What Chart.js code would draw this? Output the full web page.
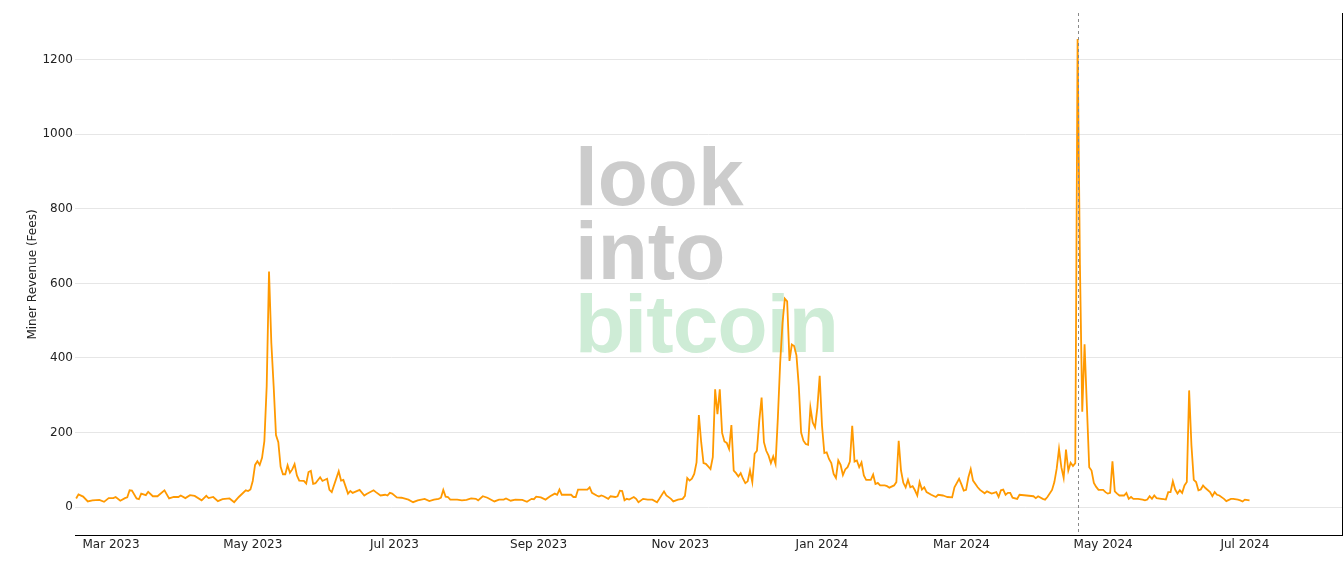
<!DOCTYPE html>
<html>
<head>
<meta charset="utf-8">
<script src="https://cdn.jsdelivr.net/npm/chart.js@4.4.1/dist/chart.umd.min.js"></script>
<style>
html,body{margin:0;padding:0;background:#fff;}
#wrap{width:1344px;height:562px;position:relative;}
</style>
</head>
<body>
<div id="wrap"><canvas id="c" width="1344" height="562"></canvas></div>
<script>
// ---- data ----
const dates = [
'2023-02-14','2023-02-15','2023-02-17','2023-02-19','2023-02-21','2023-02-24','2023-02-26','2023-02-28',
'2023-03-02','2023-03-03','2023-03-05','2023-03-07','2023-03-08','2023-03-09','2023-03-10','2023-03-12','2023-03-13','2023-03-14','2023-03-16','2023-03-17','2023-03-19','2023-03-21','2023-03-24','2023-03-26','2023-03-28','2023-03-30','2023-03-31',
'2023-04-02','2023-04-04','2023-04-06','2023-04-09','2023-04-11','2023-04-12','2023-04-14','2023-04-16','2023-04-18','2023-04-21','2023-04-23','2023-04-25','2023-04-28','2023-04-29','2023-04-30',
'2023-05-01','2023-05-02','2023-05-03','2023-05-04','2023-05-05','2023-05-06','2023-05-07','2023-05-08','2023-05-09','2023-05-10','2023-05-11','2023-05-12','2023-05-13','2023-05-14','2023-05-15','2023-05-16','2023-05-17','2023-05-18','2023-05-19','2023-05-20','2023-05-21','2023-05-23','2023-05-24','2023-05-25','2023-05-26','2023-05-27','2023-05-28','2023-05-30','2023-05-31',
'2023-06-02','2023-06-03','2023-06-04','2023-06-07','2023-06-08','2023-06-09','2023-06-11','2023-06-12','2023-06-13','2023-06-16','2023-06-18','2023-06-19','2023-06-22','2023-06-23','2023-06-25','2023-06-27','2023-06-28','2023-06-29','2023-06-30',
'2023-07-02','2023-07-04','2023-07-07','2023-07-09','2023-07-11','2023-07-14','2023-07-16','2023-07-18','2023-07-20','2023-07-21','2023-07-22','2023-07-23','2023-07-24','2023-07-25','2023-07-28','2023-07-30',
'2023-08-01','2023-08-03','2023-08-05','2023-08-06','2023-08-08','2023-08-10','2023-08-13','2023-08-15','2023-08-17','2023-08-18','2023-08-20','2023-08-22','2023-08-25','2023-08-27','2023-08-29','2023-08-30','2023-08-31',
'2023-09-02','2023-09-04','2023-09-06','2023-09-08','2023-09-09','2023-09-10','2023-09-11','2023-09-13','2023-09-15','2023-09-16','2023-09-17','2023-09-18','2023-09-20','2023-09-22','2023-09-23','2023-09-24','2023-09-26','2023-09-27','2023-09-28','2023-09-29',
'2023-10-01','2023-10-02','2023-10-04','2023-10-05','2023-10-06','2023-10-07','2023-10-08','2023-10-09','2023-10-10','2023-10-12','2023-10-13','2023-10-14','2023-10-16','2023-10-18','2023-10-20','2023-10-22','2023-10-23','2023-10-25','2023-10-26','2023-10-28','2023-10-29','2023-10-31',
'2023-11-02','2023-11-03','2023-11-04','2023-11-05','2023-11-06','2023-11-07','2023-11-08','2023-11-09','2023-11-10','2023-11-11','2023-11-12','2023-11-13','2023-11-14','2023-11-15','2023-11-16','2023-11-17','2023-11-18','2023-11-19','2023-11-20','2023-11-21','2023-11-22','2023-11-23','2023-11-24','2023-11-25','2023-11-26','2023-11-27','2023-11-28','2023-11-29','2023-11-30',
'2023-12-01','2023-12-02','2023-12-03','2023-12-04','2023-12-05','2023-12-06','2023-12-07','2023-12-08','2023-12-09','2023-12-10','2023-12-11','2023-12-12','2023-12-13','2023-12-14','2023-12-15','2023-12-16','2023-12-17','2023-12-18','2023-12-19','2023-12-20','2023-12-21','2023-12-22','2023-12-23','2023-12-24','2023-12-25','2023-12-26','2023-12-27','2023-12-28','2023-12-29','2023-12-30','2023-12-31',
'2024-01-01','2024-01-02','2024-01-03','2024-01-04','2024-01-05','2024-01-06','2024-01-07','2024-01-08','2024-01-09','2024-01-10','2024-01-11','2024-01-12','2024-01-13','2024-01-14','2024-01-15','2024-01-16','2024-01-17','2024-01-18','2024-01-19','2024-01-20','2024-01-22','2024-01-23','2024-01-24','2024-01-25','2024-01-26','2024-01-28','2024-01-29','2024-01-30',
'2024-02-01','2024-02-02','2024-02-03','2024-02-04','2024-02-05','2024-02-06','2024-02-07','2024-02-08','2024-02-09','2024-02-10','2024-02-11','2024-02-12','2024-02-13','2024-02-14','2024-02-15','2024-02-17','2024-02-19','2024-02-20','2024-02-22','2024-02-23','2024-02-24','2024-02-26','2024-02-27','2024-02-29',
'2024-03-01','2024-03-02','2024-03-03','2024-03-04','2024-03-05','2024-03-06','2024-03-08','2024-03-09','2024-03-11','2024-03-12','2024-03-14','2024-03-16','2024-03-17','2024-03-18','2024-03-19','2024-03-20','2024-03-21','2024-03-22','2024-03-23','2024-03-25','2024-03-26','2024-03-29',
'2024-04-01','2024-04-02','2024-04-03','2024-04-05','2024-04-06','2024-04-07','2024-04-09','2024-04-10','2024-04-11','2024-04-12','2024-04-13','2024-04-14','2024-04-15','2024-04-16','2024-04-17','2024-04-18','2024-04-19','2024-04-20','2024-04-21','2024-04-22','2024-04-23','2024-04-24','2024-04-25','2024-04-26','2024-04-27','2024-04-28','2024-04-29',
'2024-05-01','2024-05-02','2024-05-03','2024-05-04','2024-05-05','2024-05-06','2024-05-07','2024-05-08','2024-05-10','2024-05-11','2024-05-12','2024-05-13','2024-05-14','2024-05-16','2024-05-18','2024-05-19','2024-05-20','2024-05-21','2024-05-22','2024-05-23','2024-05-24','2024-05-26','2024-05-27','2024-05-28','2024-05-29','2024-05-30','2024-05-31',
'2024-06-01','2024-06-02','2024-06-03','2024-06-04','2024-06-05','2024-06-06','2024-06-07','2024-06-08','2024-06-09','2024-06-10','2024-06-11','2024-06-12','2024-06-13','2024-06-14','2024-06-16','2024-06-17','2024-06-18','2024-06-19','2024-06-20','2024-06-22','2024-06-23','2024-06-25','2024-06-26','2024-06-28','2024-06-29','2024-06-30',
'2024-07-01','2024-07-03'
];
const fees = [
23,34,28,15,18,19,14,24,
24,27,17,24,26,45,44,23,21,36,32,41,29,29,45,23,27,27,31,
24,32,30,18,30,24,27,16,21,23,13,27,45,43,47,
70,113,123,113,132,177,324,632,440,324,193,174,108,88,88,112,92,101,115,85,71,70,63,94,97,62,64,80,70,
76,46,40,96,71,73,36,43,38,46,31,35,45,40,31,33,31,38,36,
26,25,20,13,18,22,16,20,22,25,46,28,27,20,20,18,
19,23,22,18,29,25,15,20,20,23,17,20,19,14,22,21,28,
26,20,29,36,33,47,33,33,33,27,27,47,47,47,53,38,31,28,31,29,
22,29,27,29,44,43,18,22,20,27,22,13,22,20,20,13,22,42,31,22,15,20,
22,30,78,71,76,89,120,247,174,118,116,109,102,134,316,249,316,199,176,172,156,220,98,91,82,91,76,64,69,
98,67,143,151,232,294,174,151,138,118,136,116,240,388,494,559,552,392,436,432,407,325,200,178,169,167,267,227,214,267,352,
218,145,147,129,118,89,78,125,113,86,101,107,122,218,122,125,107,120,85,73,73,87,62,65,58,58,56,52,
58,67,178,98,65,53,73,53,56,45,31,67,47,53,40,33,27,33,31,29,27,26,53,76,
61,44,46,80,102,71,53,46,37,42,36,40,27,45,47,33,38,38,25,22,33,31,
29,24,29,22,20,27,46,67,103,156,107,78,154,98,119,110,118,1256,650,256,437,270,107,98,65,54,46,
46,40,36,38,123,42,36,31,31,38,22,27,22,22,20,18,20,29,22,31,24,22,21,20,40,40,69,
47,36,45,38,58,67,313,165,73,67,45,47,58,51,40,29,40,33,31,22,16,22,22,20,18,15,
20,18
];
const tickDates = ['2023-03-01','2023-05-01','2023-07-01','2023-09-01','2023-11-01','2024-01-01','2024-03-01','2024-05-01','2024-07-01'];
const tickLabels = ['Mar 2023','May 2023','Jul 2023','Sep 2023','Nov 2023','Jan 2024','Mar 2024','May 2024','Jul 2024'];
const yTicks = [0,200,400,600,800,1000,1200];
const halvingDate = '2024-04-20';
const xRange = ['2023-02-13T12:00:00Z','2024-08-11T19:00:00Z'];
const yRange = [-75, 1323];
const axisTitle = 'Miner Revenue (Fees)';
const watermarkLines = ['look','into','bitcoin'];

// ---- helpers ----
const toDay = s => Date.parse(s) / 86400000;
const points = dates.map((d, i) => ({x: toDay(d), y: fees[i]}));
const FONT = '"DejaVu Sans", Verdana, sans-serif';

const decor = {
  id: 'decor',
  beforeDatasetsDraw(chart) {
    const ctx = chart.ctx;
    ctx.save();
    ctx.font = 'bold 82px "Liberation Sans", Arial, sans-serif';
    ctx.textAlign = 'left';
    ctx.textBaseline = 'alphabetic';
    const cols = ['#cccccc', '#cccccc', '#ceecd6'];
    const base = [205, 278.5, 352];
    const spacing = ['0px', '0px', '-0.8px'];
    watermarkLines.forEach((t, i) => {
      ctx.fillStyle = cols[i];
      if ('letterSpacing' in ctx) ctx.letterSpacing = spacing[i];
      ctx.fillText(t, 575, base[i]);
    });
    ctx.restore();
  },
  afterDatasetsDraw(chart) {
    const {ctx, chartArea: a, scales: {x}} = chart;
    ctx.save();
    ctx.strokeStyle = '#000';
    ctx.lineWidth = 1;
    ctx.beginPath();
    ctx.moveTo(a.left, a.bottom + 0.5);
    ctx.lineTo(a.right + 1, a.bottom + 0.5);
    ctx.stroke();
    ctx.beginPath();
    ctx.moveTo(a.right + 0.5, a.top - 1);
    ctx.lineTo(a.right + 0.5, a.bottom);
    ctx.stroke();
    const hx = Math.round(x.getPixelForValue(toDay(halvingDate))) + 0.5;
    ctx.strokeStyle = '#8a8a8a';
    ctx.setLineDash([3, 3]);
    ctx.beginPath();
    ctx.moveTo(hx, a.top - 1);
    ctx.lineTo(hx, a.bottom);
    ctx.stroke();
    ctx.restore();
  }
};

new Chart(document.getElementById('c'), {
  type: 'line',
  data: {
    datasets: [{
      label: axisTitle,
      data: points,
      borderColor: '#ff9900',
      borderWidth: 1.8,
      pointRadius: 0,
      tension: 0,
      fill: false
    }]
  },
  options: {
    responsive: false,
    animation: false,
    devicePixelRatio: 1,
    layout: {padding: {top: 14, right: 2, left: 0, bottom: 0}},
    plugins: {legend: {display: false}, tooltip: {enabled: false}},
    scales: {
      x: {
        type: 'linear',
        min: toDay(xRange[0]),
        max: toDay(xRange[1]),
        grid: {display: false, drawTicks: false},
        border: {display: false},
        afterBuildTicks: s => { s.ticks = tickDates.map(d => ({value: toDay(d)})); },
        afterFit: s => { s.height = 27; },
        ticks: {
          autoSkip: false,
          maxRotation: 0,
          padding: 3,
          color: '#222',
          font: {family: FONT, size: 12},
          callback: v => { const i = tickDates.findIndex(d => Math.abs(toDay(d) - v) < 0.01); return i >= 0 ? tickLabels[i] : ''; }
        }
      },
      y: {
        type: 'linear',
        min: yRange[0],
        max: yRange[1],
        grid: {color: '#e6e6e6', lineWidth: 1, drawTicks: false},
        border: {display: false},
        afterBuildTicks: s => { s.ticks = yTicks.map(v => ({value: v})); },
        afterFit: s => { s.width = 75; },
        ticks: {
          padding: 2,
          color: '#222',
          font: {family: FONT, size: 12},
          callback: v => String(v)
        },
        title: {
          display: true,
          text: axisTitle,
          color: '#222',
          font: {family: FONT, size: 12},
          padding: {top: 26, bottom: 0}
        }
      }
    }
  },
  plugins: [decor]
});
</script>
</body>
</html>
